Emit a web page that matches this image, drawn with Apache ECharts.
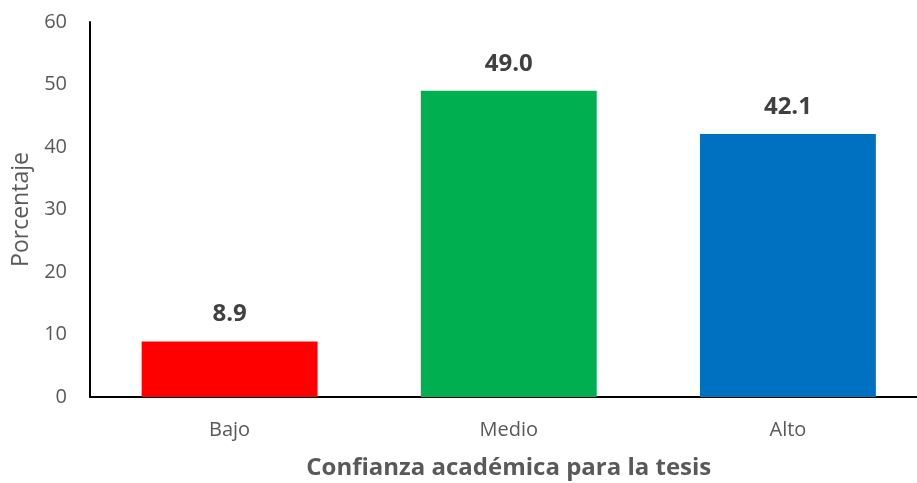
<!DOCTYPE html>
<html><head><meta charset="utf-8">
<script src="https://cdn.jsdelivr.net/npm/echarts@6/dist/echarts.min.js"></script>
<style>html,body{margin:0;padding:0;background:#fff}#c{width:917px;height:483px}</style>
</head><body><div id="c"></div>
<script>
const categories = ['Bajo', 'Medio', 'Alto'];
const values = [8.9, 49.0, 42.1];
const colors = ['#FF0000', '#00B050', '#0070C0'];
const yTicks = {min: 0, max: 60, interval: 10};

const chart = echarts.init(document.getElementById('c'), null, {renderer: 'canvas'});
chart.setOption({
  animation: false,
  backgroundColor: '#fff',
  grid: {left: 90, right: -10.5, top: 22, bottom: 86, containLabel: false, outerBoundsMode: 'none'},
  xAxis: {
    type: 'category',
    data: categories,
    name: 'Confianza académica para la tesis',
    nameLocation: 'middle',
    nameGap: 59,
    nameTextStyle: {fontFamily: 'Open Sans', fontSize: 24, fontWeight: 'bold', color: '#595959'},
    axisLine: {lineStyle: {color: '#000', width: 2}},
    axisTick: {show: false},
    axisLabel: {fontFamily: 'Open Sans', fontSize: 20, color: '#595959', margin: 23}
  },
  yAxis: {
    type: 'value',
    min: yTicks.min, max: yTicks.max, interval: yTicks.interval,
    name: 'Porcentaje',
    nameLocation: 'middle',
    nameGap: 57,
    nameTextStyle: {fontFamily: 'Open Sans', fontSize: 23, color: '#595959'},
    axisLine: {show: true, lineStyle: {color: '#000', width: 2}},
    axisTick: {show: false},
    splitLine: {show: false},
    axisLabel: {fontFamily: 'Open Sans', fontSize: 20, color: '#595959', margin: 23}
  },
  series: [{
    type: 'bar',
    barWidth: '63%',
    data: values.map((v, i) => ({value: v, itemStyle: {color: colors[i]}})),
    label: {
      show: true, position: 'top', distance: 15,
      formatter: p => p.value.toFixed(1),
      fontFamily: 'Open Sans', fontSize: 24, fontWeight: 'bold', color: '#404040'
    }
  }]
});
</script></body></html>
